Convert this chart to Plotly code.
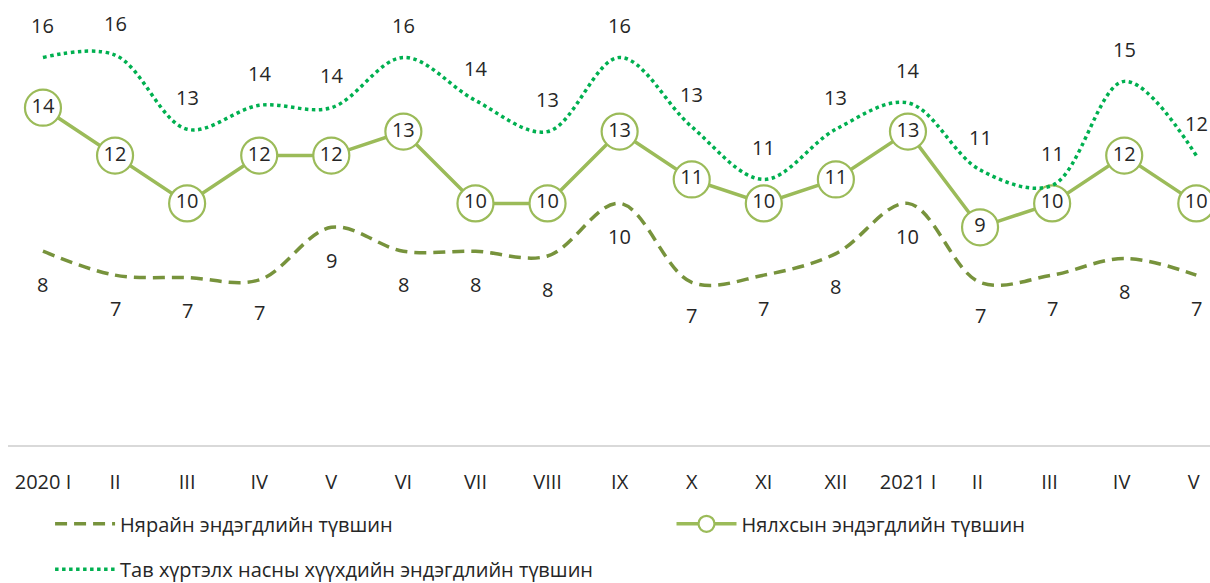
import plotly.graph_objects as go

categories = ["2020 I", "II", "III", "IV", "V", "VI", "VII", "VIII", "IX", "X", "XI", "XII",
              "2021 I", "II ", "III ", "IV ", "V "]

neonatal = [8.0, 7.0, 6.9, 6.8, 9.0, 8.0, 8.0, 7.8, 10.0, 6.7, 7.0, 7.9, 10.0, 6.7, 7.0, 7.7, 7.0]
infant = [14, 12, 10, 12, 12, 13, 10, 10, 13, 11, 10, 11, 13, 9, 10, 12, 10]
under5 = [16.1, 16.2, 13.1, 14.1, 14.0, 16.1, 14.3, 13.0, 16.1, 13.2, 11.0, 13.1, 14.2, 11.4, 10.75, 15.1, 12.0]

name_neo = "Нярайн эндэгдлийн түвшин"
name_inf = "Нялхсын эндэгдлийн түвшин"
name_u5 = "Тав хүртэлх насны хүүхдийн эндэгдлийн түвшин"

FONT = "Open Sans"
FS = 20
TXT = "#262626"
C_NEO = "#77933C"
C_INF = "#9BBB59"
C_U5 = "#00B050"

fig = go.Figure()

fig.add_trace(go.Scatter(
    x=categories, y=neonatal, name=name_neo, mode="lines",
    line=dict(color=C_NEO, width=3.5, dash="12px,7px", shape="spline", smoothing=1.0),
    legend="legend", cliponaxis=False,
))
fig.add_trace(go.Scatter(
    x=categories, y=infant, name=name_inf, mode="lines+markers+text",
    line=dict(color=C_INF, width=3.5),
    marker=dict(symbol="circle", size=36, color="white", line=dict(color=C_INF, width=2.2)),
    text=[str(v) for v in infant], textposition="middle center",
    textfont=dict(family=FONT, size=FS, color=TXT),
    legend="legend2", cliponaxis=False,
))
fig.add_trace(go.Scatter(
    x=categories, y=under5, name=name_u5, mode="lines",
    line=dict(color=C_U5, width=3.5, dash="dot", shape="spline", smoothing=1.0),
    legend="legend3", cliponaxis=False,
))

annotations = []
for c, v in zip(categories, under5):
    annotations.append(dict(x=c, y=v, text=str(round(v)), showarrow=False, yshift=32,
                            font=dict(family=FONT, size=FS, color=TXT)))
for c, v in zip(categories, neonatal):
    annotations.append(dict(x=c, y=v, text=str(round(v)), showarrow=False, yshift=-33,
                            font=dict(family=FONT, size=FS, color=TXT)))

leg_common = dict(orientation="h", xanchor="left", yanchor="middle", itemwidth=60,
                  font=dict(family=FONT, size=FS, color=TXT), bgcolor="rgba(0,0,0,0)")

fig.update_layout(
    width=1210, height=583,
    margin=dict(l=8, r=0, t=12, b=138, autoexpand=False),
    paper_bgcolor="white", plot_bgcolor="white",
    font=dict(family=FONT, size=FS, color=TXT),
    annotations=annotations,
    xaxis=dict(
        type="category", range=[-0.485, 16.19],
        showgrid=False, zeroline=False,
        showline=True, linecolor="#D9D9D9", linewidth=1.5,
        ticks="", ticklabelstandoff=18,
        tickfont=dict(family=FONT, size=FS, color=TXT),
    ),
    yaxis=dict(range=[-0.1, 18], visible=False, showgrid=False, zeroline=False),
    legend=dict(x=0.035, y=-0.182, **leg_common),
    legend2=dict(x=0.552, y=-0.182, **leg_common),
    legend3=dict(x=0.035, y=-0.287, **leg_common),
    showlegend=True,
)

fig.write_html("out.html", config={"displayModeBar": False},
               post_script="document.body.style.margin='0';document.body.style.overflow='hidden';")
